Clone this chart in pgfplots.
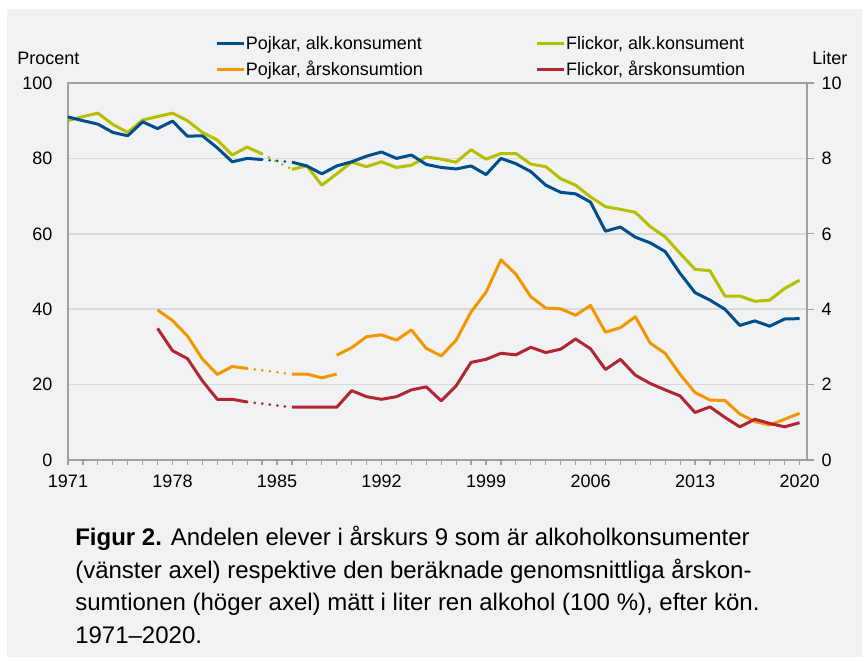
\documentclass[border=0pt]{standalone}
\usepackage{fontspec}
\setmainfont{Liberation Sans}
\usepackage{pgfplots}
\pgfplotsset{compat=1.18}
\definecolor{bg}{RGB}{241,242,244}
\definecolor{pblue}{RGB}{0,78,138}
\definecolor{fgreen}{RGB}{181,192,0}
\definecolor{porange}{RGB}{244,150,0}
\definecolor{fred}{RGB}{178,38,50}
\definecolor{gridc}{RGB}{217,217,217}
\definecolor{axc}{RGB}{160,160,160}

\pgfplotsset{
  common/.style={
    scale only axis, width=554.25pt, height=282.75pt,
    at={(51pt,-345pt)}, anchor=south west,
    xmin=1971, xmax=2020.5,
    /pgf/number format/assume math mode=true,
    /pgf/number format/1000 sep={},
    axis line style={axc, line width=0.9pt},
    tick label style={font=\fontsize{13.5}{16}\selectfont},
    tick align=outside,
  },
  ser/.style={line width=2.25pt, line join=round},
  dots/.style={line width=2.25pt, dash pattern=on 0pt off 5.7pt, line cap=round},
}

\begin{document}
\begin{tikzpicture}[font=\fontsize{13.5}{16}\selectfont]
\fill[white] (0pt,0pt) rectangle (650.25pt,-495.75pt);
\fill[bg] (5.25pt,-6.75pt) rectangle (646.5pt,-492.75pt);

% left axis: share of drinkers (percent)
\begin{axis}[common,
  ymin=0, ymax=100, ytick={0,20,...,100},
  xtick={1971,1978,...,2020}, minor x tick num=6,
  xtick pos=bottom, ytick pos=left,
  major tick length=3.75pt, minor tick length=3.75pt,
  xtick style={color=axc, line width=0.9pt},
  ytick style={draw=none},
  ymajorgrids, grid style={gridc, line width=1.1pt},
  xticklabel style={yshift=-4pt},
  yticklabel style={xshift=-4.5pt},
  legend columns=2,
  legend cell align=left,
  legend image code/.code={\draw[#1, line width=2.25pt] (0pt,0pt) -- (20pt,0pt);},
  legend style={draw=none, fill=none, at={(0.199,1.127)}, anchor=north west,
    font=\fontsize{13.5}{16}\selectfont, inner sep=0pt,
    nodes={inner sep=0.6pt}, row sep=6pt,
    /tikz/column 2/.style={column sep=84pt}},
]
\addlegendimage{pblue}\addlegendentry{Pojkar, alk.konsument}
\addlegendimage{fgreen}\addlegendentry{Flickor, alk.konsument}
\addlegendimage{porange}\addlegendentry{Pojkar, årskonsumtion}
\addlegendimage{fred}\addlegendentry{Flickor, årskonsumtion}

\addplot[ser, fgreen, forget plot] coordinates {(1971,90.0)(1972,91.1)(1973,92.0)(1974,89.0)(1975,86.9)(1976,90.2)(1977,91.1)(1978,92.0)(1979,90.0)(1980,86.9)(1981,84.9)(1982,80.9)(1983,83.0)(1984,81.2)};
\addplot[dots, fgreen, forget plot] coordinates {(1984,81.2)(1986,77.1)};
\addplot[ser, fgreen, forget plot] coordinates {(1986,77.1)(1987,78.0)(1988,72.9)(1989,75.9)(1990,79.0)(1991,77.8)(1992,79.1)(1993,77.6)(1994,78.2)(1995,80.4)(1996,79.8)(1997,79.0)(1998,82.3)(1999,79.8)(2000,81.3)(2001,81.3)(2002,78.5)(2003,77.8)(2004,74.6)(2005,72.9)(2006,69.8)(2007,67.2)(2008,66.5)(2009,65.7)(2010,61.9)(2011,59.2)(2012,54.8)(2013,50.6)(2014,50.2)(2015,43.5)(2016,43.5)(2017,42.1)(2018,42.4)(2019,45.5)(2020,47.7)};

\addplot[ser, pblue, forget plot] coordinates {(1971,91.0)(1972,90.0)(1973,89.1)(1974,86.9)(1975,86.0)(1976,89.7)(1977,87.9)(1978,89.9)(1979,85.9)(1980,86.0)(1981,82.8)(1982,79.1)(1983,80.0)(1984,79.7)};
\addplot[dots, pblue, forget plot] coordinates {(1984,79.7)(1986,79.0)};
\addplot[ser, pblue, forget plot] coordinates {(1986,79.0)(1987,78.0)(1988,75.9)(1989,78.0)(1990,79.1)(1991,80.6)(1992,81.7)(1993,80.0)(1994,80.9)(1995,78.4)(1996,77.6)(1997,77.2)(1998,78.0)(1999,75.7)(2000,80.0)(2001,78.6)(2002,76.5)(2003,72.9)(2004,71.0)(2005,70.6)(2006,68.4)(2007,60.7)(2008,61.8)(2009,59.1)(2010,57.6)(2011,55.3)(2012,49.5)(2013,44.4)(2014,42.4)(2015,40.0)(2016,35.7)(2017,36.9)(2018,35.5)(2019,37.4)(2020,37.5)};
\end{axis}

% right axis: yearly consumption (litres)
\begin{axis}[common,
  ymin=0, ymax=10, ytick={0,2,...,10},
  axis x line=none, axis y line*=right,
  major tick length=5.25pt,
  ytick style={color=axc, line width=0.9pt},
  yticklabel style={xshift=2.25pt},
]
\addplot[ser, porange] coordinates {(1977,3.98)(1978,3.70)(1979,3.29)(1980,2.68)(1981,2.27)(1982,2.48)(1983,2.43)};
\addplot[dots, porange] coordinates {(1983,2.43)(1986,2.28)};
\addplot[ser, porange] coordinates {(1986,2.28)(1987,2.28)(1988,2.18)(1989,2.28)};
\addplot[ser, porange] coordinates {(1989,2.78)(1990,2.98)(1991,3.27)(1992,3.32)(1993,3.18)(1994,3.45)(1995,2.96)(1996,2.76)(1997,3.18)(1998,3.93)(1999,4.45)(2000,5.31)(2001,4.93)(2002,4.33)(2003,4.03)(2004,4.01)(2005,3.84)(2006,4.10)(2007,3.39)(2008,3.51)(2009,3.80)(2010,3.10)(2011,2.83)(2012,2.27)(2013,1.79)(2014,1.59)(2015,1.58)(2016,1.22)(2017,1.02)(2018,0.93)(2019,1.08)(2020,1.24)};

\addplot[ser, fred] coordinates {(1977,3.49)(1978,2.90)(1979,2.69)(1980,2.10)(1981,1.61)(1982,1.61)(1983,1.54)};
\addplot[dots, fred] coordinates {(1983,1.54)(1986,1.40)};
\addplot[ser, fred] coordinates {(1986,1.40)(1987,1.40)(1988,1.40)(1989,1.40)(1990,1.84)(1991,1.68)(1992,1.61)(1993,1.68)(1994,1.86)(1995,1.94)(1996,1.57)(1997,1.97)(1998,2.59)(1999,2.67)(2000,2.83)(2001,2.79)(2002,2.99)(2003,2.85)(2004,2.94)(2005,3.21)(2006,2.95)(2007,2.40)(2008,2.67)(2009,2.25)(2010,2.03)(2011,1.86)(2012,1.70)(2013,1.26)(2014,1.41)(2015,1.13)(2016,0.88)(2017,1.08)(2018,0.97)(2019,0.88)(2020,0.99)};
\end{axis}

\node[anchor=west, inner sep=0pt] at (12.75pt,-43.5pt) {Procent};
\node[anchor=west, inner sep=0pt] at (609pt,-43.5pt) {Liter};

\node[anchor=north west, inner sep=0pt, align=left,
  font=\fontsize{18}{24.4}\selectfont] at (56.25pt,-394.5pt)
  {\textbf{Figur 2.} Andelen elever i årskurs 9 som är alkoholkonsumenter\\
   (vänster axel) respektive den beräknade genomsnittliga årskon-\\
   sumtionen (höger axel) mätt i liter ren alkohol (100 \%), efter kön.\\
   1971–2020.};
\end{tikzpicture}
\end{document}
